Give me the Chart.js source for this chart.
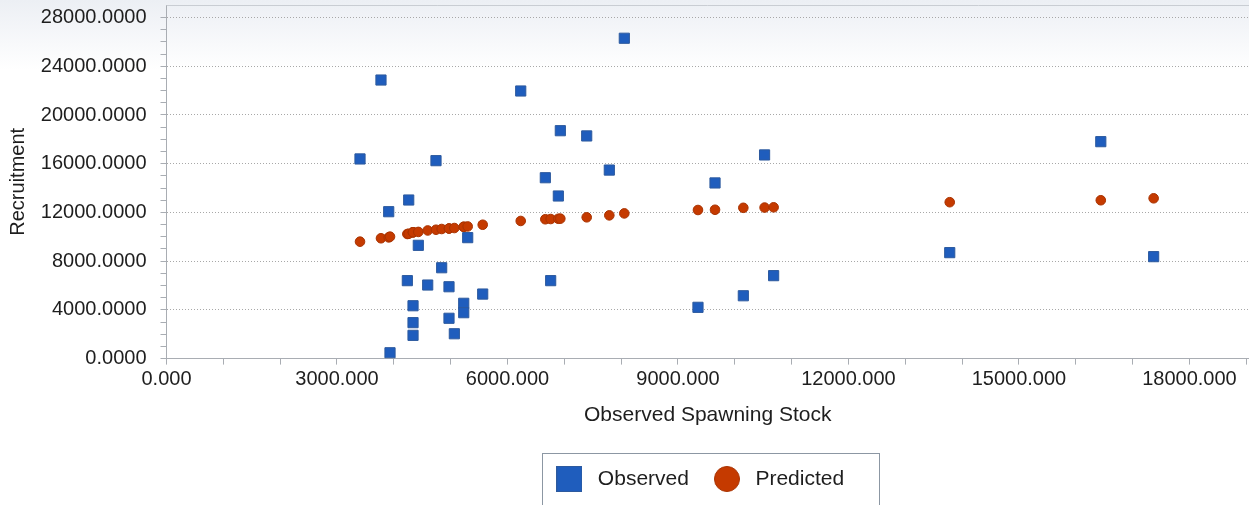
<!DOCTYPE html>
<html>
<head>
<meta charset="utf-8">
<script src="https://cdn.jsdelivr.net/npm/chart.js@4.4.1/dist/chart.umd.min.js"></script>
<style>
html, body { margin: 0; padding: 0; }
body { width: 1249px; height: 505px; overflow: hidden;
       background: linear-gradient(#eceff4 0px, #ffffff 70px); }
#wrap { position: relative; width: 1249px; height: 505px; }
</style>
</head>
<body>
<div id="wrap"><canvas id="srChart"></canvas></div>
<script>
// data (spawning stock is shared by both series)
const spawningStock = [3405, 3774, 3910, 3933, 4238, 4262, 4338, 4338, 4338, 4431, 4596, 4742,
    4842, 4971, 4971, 5065, 5230, 5230, 5300, 5564, 6233, 6666, 6760, 6895,
    6930, 7394, 7792, 8056, 9352, 9652, 10150, 10524, 10683, 13782, 16440, 17370];
const observedRecruits = [16390, 22870, 12060, 480, 6400, 13020, 4340, 2950, 1910, 9300, 6040, 16250,
    7460, 5900, 3310, 2040, 4540, 3770, 9930, 5300, 21970, 14850, 6400, 13350,
    18710, 18280, 15480, 26300, 4210, 14420, 5160, 16720, 6810, 8700, 17810, 8370];
const predictedRecruits = [9600, 9880, 9950, 10010, 10230, 10250, 10370, 10370, 10370, 10400, 10520, 10580,
    10640, 10680, 10680, 10720, 10820, 10820, 10850, 10990, 11300, 11440, 11460, 11480,
    11490, 11600, 11760, 11920, 12200, 12220, 12380, 12400, 12420, 12840, 13000, 13160];
const seriesNames = ['Observed', 'Predicted'];
const xTickStep = 1000, xLabelStep = 3000, xLastTick = 19000;
const yTickStep = 1000, yLabelStep = 4000, yLastTick = 28000;

const FONT = "'Liberation Sans', Arial, sans-serif";
const TEXT = '#1e1e1e';
const BLUE = '#1f5dbd', BLUE_EDGE = '#2d5a9e';
const RED = '#c53a00', RED_EDGE = '#a83300';

// legend symbols (26px, as in the original legend)
function makeIcon(kind) {
    const c = document.createElement('canvas');
    c.width = 26; c.height = 26;
    const g = c.getContext('2d');
    if (kind === 'rect') {
        g.fillStyle = BLUE_EDGE; g.fillRect(0, 0, 26, 26);
        g.fillStyle = BLUE; g.fillRect(1, 1, 24, 24);
    } else {
        g.beginPath(); g.arc(13, 13, 12.5, 0, Math.PI * 2);
        g.fillStyle = RED; g.fill();
        g.lineWidth = 1; g.strokeStyle = RED_EDGE; g.stroke();
    }
    return c;
}
const legendIcons = [makeIcon('rect'), makeIcon('circle')];

function stepTicks(step, last) {
    const out = [];
    for (let v = 0; v <= last; v += step) out.push({ value: v });
    return out;
}

// frame round the legend + top border of the plot
const framePlugin = {
    id: 'frames',
    afterLayout(chart) {
        // the original legend sits a little left of the plot centre
        chart.legend.left -= 10;
        chart.legend.right -= 10;
    },
    afterDraw(chart) {
        const ctx = chart.ctx, a = chart.chartArea;
        ctx.save();
        ctx.strokeStyle = '#c9cdd3';
        ctx.lineWidth = 1;
        ctx.beginPath();
        ctx.moveTo(a.left, a.top + 0.5); ctx.lineTo(a.right, a.top + 0.5);
        ctx.stroke();
        const hb = chart.legend.legendHitBoxes;
        if (hb && hb.length) {
            const first = hb[0], last = hb[hb.length - 1];
            const l = Math.round(first.left - 9) + 0.5;
            const r = Math.round(last.left + last.width + 35) + 0.5;
            const t = Math.round(chart.legend.top + 4) + 0.5;
            ctx.strokeStyle = '#8c97a3';
            ctx.strokeRect(l, t, r - l, 80);
        }
        ctx.restore();
    }
};

const ctx = document.getElementById('srChart').getContext('2d');
new Chart(ctx, {
    type: 'scatter',
    data: {
        datasets: [{
            label: seriesNames[0],
            data: spawningStock.map((x, i) => ({ x: x, y: observedRecruits[i] })),
            pointStyle: 'rect',
            pointRadius: 7.2,
            backgroundColor: BLUE,
            borderColor: BLUE_EDGE,
            borderWidth: 1
        }, {
            label: seriesNames[1],
            data: spawningStock.map((x, i) => ({ x: x, y: predictedRecruits[i] })),
            pointStyle: 'circle',
            pointRadius: 4.8,
            backgroundColor: RED,
            borderColor: RED_EDGE,
            borderWidth: 1
        }]
    },
    options: {
        responsive: true,
        maintainAspectRatio: false,
        animation: false,
        events: [],
        layout: { autoPadding: false, padding: { top: 5, right: 0, bottom: 5.5, left: 0 } },
        plugins: {
            tooltip: { enabled: false },
            legend: {
                position: 'bottom',
                fullSize: false,
                labels: {
                    font: { family: FONT, size: 21 },
                    color: TEXT,
                    padding: 20,
                    usePointStyle: true,
                    pointStyleWidth: 36,
                    generateLabels: chart => chart.data.datasets.map((ds, i) => ({
                        text: ds.label,
                        pointStyle: legendIcons[i],
                        fillStyle: ds.backgroundColor,
                        strokeStyle: 'transparent',
                        lineWidth: 0,
                        hidden: false,
                        datasetIndex: i,
                        fontColor: TEXT
                    }))
                }
            }
        },
        scales: {
            x: {
                type: 'linear',
                min: 0,
                max: 19048,
                afterFit: s => { s.height = 89.9; s.paddingLeft = 0; s.paddingRight = 0; },
                afterBuildTicks: s => { s.ticks = stepTicks(xTickStep, xLastTick); },
                ticks: {
                    autoSkip: false,
                    maxRotation: 0,
                    padding: 3,
                    color: TEXT,
                    font: { family: FONT, size: 20 },
                    callback: v => (v % xLabelStep === 0 ? v.toFixed(3) : '')
                },
                grid: {
                    drawOnChartArea: false,
                    tickLength: 6,
                    tickColor: '#a9adb3'
                },
                border: { color: '#a9adb3', width: 1 },
                title: {
                    display: true,
                    text: 'Observed Spawning Stock',
                    color: TEXT,
                    font: { family: FONT, size: 21 },
                    padding: { top: 0, bottom: 21 }
                }
            },
            y: {
                type: 'linear',
                min: 0,
                max: 29030,
                afterFit: s => { s.width = 166.5; s.paddingTop = 0; s.paddingBottom = 0; },
                afterBuildTicks: s => { s.ticks = stepTicks(yTickStep, yLastTick); },
                ticks: {
                    autoSkip: false,
                    padding: 14,
                    color: TEXT,
                    font: { family: FONT, size: 20 },
                    callback: v => (v % yLabelStep === 0 ? v.toFixed(4) : '')
                },
                grid: {
                    color: c => (c.tick && c.tick.value > 0 && c.tick.value % yLabelStep === 0) ? '#a8a8a8' : 'transparent',
                    tickLength: 6,
                    tickColor: '#a9adb3'
                },
                border: { color: '#a9adb3', width: 1, dash: [1, 2] },
                title: {
                    display: true,
                    text: 'Recruitment',
                    color: TEXT,
                    font: { family: FONT, size: 20 },
                    padding: { top: 6, bottom: 0 }
                }
            }
        }
    },
    plugins: [framePlugin]
});
</script>
</body>
</html>
